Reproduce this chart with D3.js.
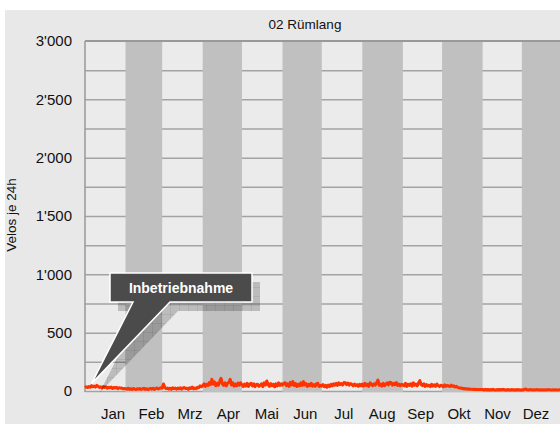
<!DOCTYPE html>
<html>
<head>
<meta charset="utf-8">
<script src="https://cdn.jsdelivr.net/npm/d3@7"></script>
<style>
  html, body { margin: 0; padding: 0; background: #fff; }
  svg text { font-family: "Liberation Sans", Arial, Helvetica, sans-serif; }
</style>
</head>
<body>
<svg id="vis" width="560" height="424"></svg>
<script>
var title = "02 Rümlang";
var yTitle = "Velos je 24h";
var months = ["Jan", "Feb", "Mrz", "Apr", "Mai", "Jun", "Jul", "Aug", "Sep", "Okt", "Nov", "Dez"];
var yLabels = [0, 500, 1000, 1500, 2000, 2500, 3000];
var yGrid = [250, 500, 750, 1000, 1250, 1500, 1750, 2000, 2250, 2500, 2750];
var note = "Inbetriebnahme";

// Velos je Tag, ein Jahr (Zeile = Monat)
var counts = [
	28, 36, 30, 38, 32, 46, 36, 42, 33, 48, 40, 30, 36, 26, 38, 30, 36, 24, 32, 28, 34, 22, 30, 26, 31, 20, 28, 24, 26, 18, 22,
	20, 15, 24, 14, 20, 13, 22, 16, 12, 20, 15, 22, 13, 18, 24, 14, 20, 12, 18, 22, 16, 24, 14, 21, 26, 18, 22, 28,
	24, 60, 30, 20, 26, 16, 24, 14, 28, 20, 26, 15, 25, 18, 28, 16, 26, 30, 20, 24, 14, 28, 22, 34, 18, 26, 20, 32, 28, 44, 36,
	45, 62, 40, 58, 48, 72, 55, 100, 60, 78, 45, 66, 50, 82, 108, 62, 48, 70, 44, 66, 75, 100, 52, 70, 42, 60, 45, 68, 50, 71,
	52, 38, 60, 42, 66, 40, 58, 66, 44, 62, 38, 55, 57, 40, 48, 62, 38, 70, 52, 86, 55, 40, 64, 45, 58, 36, 62, 44, 70, 48, 62,
	50, 66, 71, 45, 62, 40, 74, 52, 80, 46, 64, 40, 58, 44, 70, 48, 80, 52, 64, 40, 58, 46, 66, 42, 55, 40, 62, 66, 38, 48,
	42, 55, 36, 48, 32, 50, 38, 58, 44, 62, 50, 66, 48, 70, 55, 64, 52, 72, 71, 55, 68, 50, 64, 58, 44, 60, 46, 55, 40, 58, 45,
	60, 42, 66, 48, 58, 40, 70, 57, 45, 62, 50, 72, 94, 48, 60, 42, 66, 46, 58, 70, 52, 75, 71, 50, 66, 55, 72, 48, 60, 44, 58,
	52, 44, 66, 40, 58, 48, 62, 42, 70, 50, 60, 44, 68, 89, 55, 46, 62, 40, 56, 44, 50, 38, 58, 42, 52, 40, 60, 46, 38, 50,
	46, 36, 52, 40, 48, 44, 38, 50, 40, 44, 34, 40, 30, 28, 24, 26, 20, 22, 17, 19, 15, 17, 14, 16, 13, 15, 12, 14, 12, 13, 12,
	12, 10, 14, 11, 13, 9, 12, 10, 14, 11, 9, 12, 10, 13, 10, 12, 14, 10, 9, 12, 11, 9, 12, 10, 11, 8, 12, 10, 11, 9,
	10, 8, 14, 18, 11, 9, 12, 10, 8, 11, 9, 12, 10, 8, 11, 9, 10, 8, 11, 9, 12, 10, 8, 9, 11, 8, 10, 9, 8, 10, 9
];

var year = 2019;
var data = counts.map((v, i) => ({ date: d3.timeDay.offset(new Date(year, 0, 1), i), value: v }));

var plotLeft = 85, plotTop = 41, plotBottom = 391;
var x = d3.scaleTime()
          .domain([new Date(year, 0, 1), new Date(year + 1, 0, 1)])
          .range([plotLeft, plotLeft + 365 * 1.308]);
var y = d3.scaleLinear().domain([0, 3000]).range([plotBottom, plotTop]);
var xLab = d3.scalePoint().domain(months).range([113, 536]);
var fmt = d3.formatLocale({ decimal: ".", thousands: "'", grouping: [3], currency: ["", ""] }).format(",");

var svg = d3.select("#vis");

// panel
svg.append("rect").attr("x", 5).attr("y", 10).attr("width", 555).attr("height", 414).attr("fill", "#e8e8e8");
svg.append("rect").attr("x", plotLeft).attr("y", plotTop).attr("width", 560 - plotLeft)
   .attr("height", plotBottom - plotTop).attr("fill", "#ebebeb");

// horizontal grid
svg.selectAll("line.grid")
   .data(yGrid.concat([0]))
   .enter()
   .append("line")
   .attr("class", "grid")
   .attr("x1", plotLeft).attr("x2", 560)
   .attr("y1", d => y(d) + 0.5).attr("y2", d => y(d) + 0.5)
   .attr("stroke", "#a3a3a3")
   .attr("stroke-width", 1.5);

// gray months
var monthStarts = d3.range(12).map(i => new Date(year, i, 1));
svg.selectAll("rect.month")
   .data(monthStarts.filter((d, i) => i % 2 == 1))
   .enter()
   .append("rect")
   .attr("class", "month")
   .attr("x", d => x(d))
   .attr("width", d => x(d3.timeMonth.offset(d, 1)) - x(d))
   .attr("y", y(3000))
   .attr("height", y(0) - y(3000) + 1)
   .attr("fill", "#c0c0c0");

// frame lines
svg.append("line").attr("x1", plotLeft).attr("x2", 560).attr("y1", y(3000)).attr("y2", y(3000))
   .attr("stroke", "#999").attr("stroke-width", 2);
svg.append("line").attr("x1", plotLeft).attr("x2", plotLeft).attr("y1", y(3000)).attr("y2", y(0) + 1)
   .attr("stroke", "#999").attr("stroke-width", 1.5);

// y labels
svg.selectAll("text.ylab")
   .data(yLabels)
   .enter()
   .append("text")
   .attr("class", "ylab")
   .attr("x", 72)
   .attr("y", d => y(d))
   .attr("dy", "0.36em")
   .attr("text-anchor", "end")
   .attr("font-size", 15)
   .attr("fill", "#111")
   .text(d => fmt(d));

// x labels
svg.selectAll("text.xlab")
   .data(months)
   .enter()
   .append("text")
   .attr("class", "xlab")
   .attr("x", d => xLab(d))
   .attr("y", 419)
   .attr("text-anchor", "middle")
   .attr("font-size", 15)
   .attr("fill", "#111")
   .text(d => d);

// titles
svg.append("text").attr("x", 305).attr("y", 29).attr("text-anchor", "middle")
   .attr("font-size", 13.5).attr("fill", "#111").text(title);
svg.append("text").attr("transform", "translate(16,215) rotate(-90)").attr("text-anchor", "middle")
   .attr("font-size", 13.5).attr("fill", "#111").text(yTitle);

// data line
var line = d3.line().x(d => x(d.date)).y(d => y(d.value));
svg.append("path")
   .datum(data)
   .attr("d", line)
   .attr("fill", "none")
   .attr("stroke", "#ff3300")
   .attr("stroke-width", 3)
   .attr("stroke-linejoin", "round");

// annotation callout
var defs = svg.append("defs");
var pat = defs.append("pattern").attr("id", "grid").attr("patternUnits", "userSpaceOnUse")
              .attr("width", 9).attr("height", 9);
pat.append("rect").attr("width", 9).attr("height", 9).attr("fill", "rgba(0,0,0,0.2)");
pat.append("path").attr("d", "M9 0V9M0 9H9").attr("stroke", "rgba(0,0,0,0.12)").attr("stroke-width", 1);

var tip = [x(data[5].date), y(data[5].value) - 2];
var box = { x: 110, y: 273, w: 142, h: 29 };
var callout = (dx, dy) =>
	"M" + (box.x + dx) + "," + (box.y + dy) +
	"H" + (box.x + box.w + dx) + "V" + (box.y + box.h + dy) +
	"H" + (170 + dx) + "L" + (tip[0] + dx) + "," + (tip[1] + dy) +
	"L" + (133 + dx) + "," + (box.y + box.h + dy) +
	"H" + (box.x + dx) + "Z";

svg.append("path").attr("d", callout(8, 9)).attr("fill", "url(#grid)");
svg.append("path").attr("d", callout(0, 0))
   .attr("fill", "#4b4b4b")
   .attr("stroke", "#fff")
   .attr("stroke-width", 1.5)
   .attr("stroke-linejoin", "miter");
svg.append("text").attr("x", box.x + box.w / 2).attr("y", box.y + box.h / 2).attr("dy", "0.36em")
   .attr("text-anchor", "middle").attr("font-size", 14).attr("font-weight", "bold")
   .attr("fill", "#fff").text(note);
</script>
</body>
</html>
